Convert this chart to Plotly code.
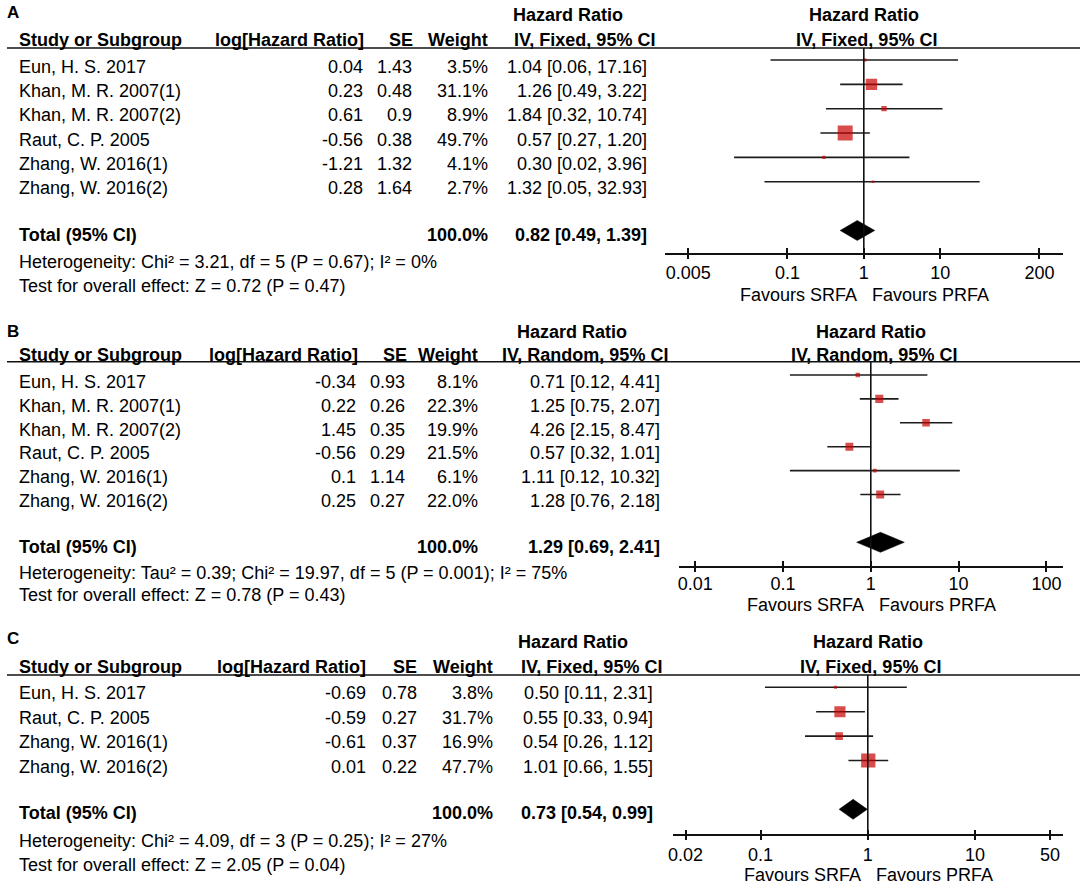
import plotly.graph_objects as go

# ---------------- data ----------------
A_studies = ["Eun, H. S. 2017", "Khan, M. R. 2007(1)", "Khan, M. R. 2007(2)",
             "Raut, C. P. 2005", "Zhang, W. 2016(1)", "Zhang, W. 2016(2)"]
A_loghr = [0.04, 0.23, 0.61, -0.56, -1.21, 0.28]
A_se = [1.43, 0.48, 0.9, 0.38, 1.32, 1.64]
A_weight = [3.5, 31.1, 8.9, 49.7, 4.1, 2.7]
A_hr = [1.04, 1.26, 1.84, 0.57, 0.30, 1.32]
A_lo = [0.06, 0.49, 0.32, 0.27, 0.02, 0.05]
A_hi = [17.16, 3.22, 10.74, 1.20, 3.96, 32.93]
A_total = [0.82, 0.49, 1.39]
A_total_weight = 100.0
A_method = "IV, Fixed, 95% CI"
A_het = "Heterogeneity: Chi² = 3.21, df = 5 (P = 0.67); I² = 0%"
A_test = "Test for overall effect: Z = 0.72 (P = 0.47)"
A_ticks = [0.005, 0.1, 1, 10, 200]
A_ticktext = ["0.005", "0.1", "1", "10", "200"]

B_studies = ["Eun, H. S. 2017", "Khan, M. R. 2007(1)", "Khan, M. R. 2007(2)",
             "Raut, C. P. 2005", "Zhang, W. 2016(1)", "Zhang, W. 2016(2)"]
B_loghr = [-0.34, 0.22, 1.45, -0.56, 0.1, 0.25]
B_se = [0.93, 0.26, 0.35, 0.29, 1.14, 0.27]
B_weight = [8.1, 22.3, 19.9, 21.5, 6.1, 22.0]
B_hr = [0.71, 1.25, 4.26, 0.57, 1.11, 1.28]
B_lo = [0.12, 0.75, 2.15, 0.32, 0.12, 0.76]
B_hi = [4.41, 2.07, 8.47, 1.01, 10.32, 2.18]
B_total = [1.29, 0.69, 2.41]
B_total_weight = 100.0
B_method = "IV, Random, 95% CI"
B_het = "Heterogeneity: Tau² = 0.39; Chi² = 19.97, df = 5 (P = 0.001); I² = 75%"
B_test = "Test for overall effect: Z = 0.78 (P = 0.43)"
B_ticks = [0.01, 0.1, 1, 10, 100]
B_ticktext = ["0.01", "0.1", "1", "10", "100"]

C_studies = ["Eun, H. S. 2017", "Raut, C. P. 2005", "Zhang, W. 2016(1)", "Zhang, W. 2016(2)"]
C_loghr = [-0.69, -0.59, -0.61, 0.01]
C_se = [0.78, 0.27, 0.37, 0.22]
C_weight = [3.8, 31.7, 16.9, 47.7]
C_hr = [0.50, 0.55, 0.54, 1.01]
C_lo = [0.11, 0.33, 0.26, 0.66]
C_hi = [2.31, 0.94, 1.12, 1.55]
C_total = [0.73, 0.54, 0.99]
C_total_weight = 100.0
C_method = "IV, Fixed, 95% CI"
C_het = "Heterogeneity: Chi² = 4.09, df = 3 (P = 0.25); I² = 27%"
C_test = "Test for overall effect: Z = 2.05 (P = 0.04)"
C_ticks = [0.02, 0.1, 1, 10, 50]
C_ticktext = ["0.02", "0.1", "1", "10", "50"]

FAV_LEFT = "Favours SRFA"
FAV_RIGHT = "Favours PRFA"

# ---------------- layout geometry (pixels) ----------------
W, H = 1084, 885
FONT = "Liberation Sans, Arial, sans-serif"
FS = 18

panels = [
    dict(label="A", studies=A_studies, loghr=A_loghr, se=A_se, weight=A_weight,
         hr=A_hr, lo=A_lo, hi=A_hi, total=A_total, tw=A_total_weight, method=A_method,
         het=A_het, test=A_test, ticks=A_ticks, ticktext=A_ticktext,
         g=dict(label_y=13, hr_y=15, head_y=40, line_y=48, row0=60, pitch=24.35,
                tdy=6.7, total_y=235, het_y=261.5, test_y=285.7, axis_y=253,
                fav_y=295, xl=663, xr=1063, logr=2.61, box=1.44, std=3,
                c_name=15, c_log=360, c_se=410, c_wt=486, c_hr=645,
                h_log=361, h_se=411, h_wt=486, h_iv=653, h_hr=511)),
    dict(label="B", studies=B_studies, loghr=B_loghr, se=B_se, weight=B_weight,
         hr=B_hr, lo=B_lo, hi=B_hi, total=B_total, tw=B_total_weight, method=B_method,
         het=B_het, test=B_test, ticks=B_ticks, ticktext=B_ticktext,
         g=dict(label_y=331.7, hr_y=331.7, head_y=355, line_y=361.7, row0=375, pitch=23.9,
                tdy=6.7, total_y=546.7, het_y=572.7, test_y=595, axis_y=566,
                fav_y=605, xl=677, xr=1063, logr=2.19, box=1.25, std=1,
                c_name=15, c_log=353, c_se=402, c_wt=476, c_hr=658,
                h_log=355, h_se=404, h_wt=476, h_iv=666, h_hr=515)),
    dict(label="C", studies=C_studies, loghr=C_loghr, se=C_se, weight=C_weight,
         hr=C_hr, lo=C_lo, hi=C_hi, total=C_total, tw=C_total_weight, method=C_method,
         het=C_het, test=C_test, ticks=C_ticks, ticktext=C_ticktext,
         g=dict(label_y=638, hr_y=642, head_y=666.7, line_y=675, row0=687.3, pitch=24.4,
                tdy=6.0, total_y=813.3, het_y=840.7, test_y=865, axis_y=834.3,
                fav_y=875, xl=671, xr=1063, logr=1.82, box=1.40, std=3,
                c_name=15, c_log=363, c_se=415, c_wt=491, c_hr=651,
                h_log=363, h_se=415, h_wt=491, h_iv=660, h_hr=516)),
]


def px_x(v):
    return v / W


def px_y(v):
    return 1 - v / H


fig = go.Figure()
annotations = []
shapes = []
layout_axes = {}

LINE_COL = "#111111"


def ann(text, x, y, xanchor="left", bold=False, xref="paper", yref="paper", yshift=0, xshift=0,
        size=FS):
    annotations.append(dict(
        text=f"<b>{text}</b>" if bold else text, x=x, y=y, xref=xref, yref=yref,
        xanchor=xanchor, yanchor="middle", showarrow=False, borderpad=0, borderwidth=0,
        yshift=yshift, xshift=xshift, font=dict(family=FONT, size=size, color="#000")))


for k, p in enumerate(panels):
    g = p["g"]
    n = len(p["studies"])
    idx = "" if k == 0 else str(k + 1)
    xa, ya = "x" + idx, "y" + idx
    xa_out = "x" + str(k + 4)
    rows = list(range(n))
    total_row = n + 1

    # y axis in row units
    y_top = (g["line_y"] - g["row0"]) / g["pitch"]
    y_bot = (g["axis_y"] - g["row0"]) / g["pitch"]
    dom_x = [px_x(g["xl"]), px_x(g["xr"])]
    dom_y = [px_y(g["axis_y"]), px_y(g["line_y"])]

    layout_axes["xaxis" + idx] = dict(
        type="log", range=[-g["logr"], g["logr"]], domain=dom_x, anchor=ya,
        showline=True, linecolor=LINE_COL, linewidth=1.6, ticks="inside",
        ticklen=5, tickwidth=1.6, tickcolor=LINE_COL, tickvals=p["ticks"],
        ticktext=p["ticktext"], tickfont=dict(family=FONT, size=FS, color="#000"),
        showgrid=False, zeroline=False, fixedrange=True, ticklabelstandoff=g["std"])
    layout_axes["xaxis" + str(k + 4)] = dict(
        type="log", range=[-g["logr"], g["logr"]], overlaying=xa, anchor=ya, side="bottom",
        showline=False, ticks="outside", ticklen=5, tickwidth=1.6, tickcolor=LINE_COL,
        tickvals=p["ticks"], showticklabels=False, showgrid=False, zeroline=False,
        fixedrange=True)
    layout_axes["yaxis" + idx] = dict(
        range=[y_bot, y_top], domain=dom_y, visible=False, fixedrange=True)

    # reference line at HR = 1
    fig.add_trace(go.Scatter(x=[1, 1], y=[y_bot, y_top], mode="lines",
                             line=dict(color=LINE_COL, width=1.6), xaxis=xa_out, yaxis=ya,
                             hoverinfo="skip", showlegend=False))
    # confidence intervals
    ci_x, ci_y = [], []
    for i in rows:
        ci_x += [p["lo"][i], p["hi"][i], None]
        ci_y += [i, i, None]
    fig.add_trace(go.Scatter(x=ci_x, y=ci_y, mode="lines",
                             line=dict(color="#1c1c1c", width=1.6), xaxis=xa, yaxis=ya,
                             hoverinfo="skip", showlegend=False))
    # weighted squares
    sizes = [g["box"] * (w ** 0.6) for w in p["weight"]]
    fig.add_trace(go.Scatter(x=p["hr"], y=rows, mode="markers",
                             marker=dict(symbol="square", size=sizes, color="#C80000",
                                         line=dict(width=0)),
                             xaxis=xa, yaxis=ya, hoverinfo="skip", showlegend=False))
    # pooled diamond
    t, lo, hi = p["total"]
    hh = 10 / g["pitch"]
    fig.add_trace(go.Scatter(x=[lo, t, hi, t, lo],
                             y=[total_row, total_row - hh, total_row, total_row + hh, total_row],
                             mode="lines", fill="toself", fillcolor="#000",
                             line=dict(color="#000", width=0.5), xaxis=xa, yaxis=ya,
                             hoverinfo="skip", showlegend=False))

    # header underline
    shapes.append(dict(type="line", xref="paper", yref="paper", x0=px_x(3), x1=px_x(1080),
                       y0=px_y(g["line_y"]), y1=px_y(g["line_y"]),
                       line=dict(color=LINE_COL, width=1.6)))

    # panel label and headers
    ann(p["label"], px_x(3), px_y(g["label_y"]), bold=True, size=17)
    ann("Hazard Ratio", px_x(g["h_hr"]), px_y(g["hr_y"]), bold=True)
    ann("Study or Subgroup", px_x(g["c_name"]), px_y(g["head_y"]), bold=True)
    ann("log[Hazard Ratio]", px_x(g["h_log"]), px_y(g["head_y"]), xanchor="right", bold=True)
    ann("SE", px_x(g["h_se"]), px_y(g["head_y"]), xanchor="right", bold=True)
    ann("Weight", px_x(g["h_wt"]), px_y(g["head_y"]), xanchor="right", bold=True)
    ann(p["method"], px_x(g["h_iv"]), px_y(g["head_y"]), xanchor="right", bold=True)
    xc = (g["xl"] + g["xr"]) / 2
    ann("Hazard Ratio", px_x(xc), px_y(g["hr_y"]), xanchor="center", bold=True)
    ann(p["method"], px_x(xc + 3), px_y(g["head_y"]), xanchor="center", bold=True)

    # study rows
    for i in rows:
        ys = -g["tdy"]
        ann(p["studies"][i], px_x(g["c_name"]), i, yref=ya, yshift=ys)
        ann(str(p["loghr"][i]), px_x(g["c_log"]), i, xanchor="right", yref=ya, yshift=ys)
        ann(str(p["se"][i]), px_x(g["c_se"]), i, xanchor="right", yref=ya, yshift=ys)
        ann(f"{p['weight'][i]:.1f}%", px_x(g["c_wt"]), i, xanchor="right", yref=ya, yshift=ys)
        ann(f"{p['hr'][i]:.2f} [{p['lo'][i]:.2f}, {p['hi'][i]:.2f}]", px_x(g["c_hr"]), i,
            xanchor="right", yref=ya, yshift=ys)

    # total + stats
    ann("Total (95% CI)", px_x(g["c_name"]), px_y(g["total_y"]), bold=True)
    ann(f"{p['tw']:.1f}%", px_x(g["c_wt"]), px_y(g["total_y"]), xanchor="right", bold=True)
    ann(f"{t:.2f} [{lo:.2f}, {hi:.2f}]", px_x(g["c_hr"]), px_y(g["total_y"]),
        xanchor="right", bold=True)
    ann(p["het"], px_x(g["c_name"]), px_y(g["het_y"]))
    ann(p["test"], px_x(g["c_name"]), px_y(g["test_y"]))

    # favours labels
    ann(FAV_LEFT, 0, px_y(g["fav_y"]), xanchor="right", xref=xa, xshift=-7)
    ann(FAV_RIGHT, 0, px_y(g["fav_y"]), xanchor="left", xref=xa, xshift=8)

fig.update_layout(
    width=W, height=H, margin=dict(l=0, r=0, t=0, b=0),
    paper_bgcolor="white", plot_bgcolor="white",
    font=dict(family=FONT, size=FS, color="#000"),
    annotations=annotations, shapes=shapes, showlegend=False,
    **layout_axes)

fig.write_html("out.html", config={"displayModeBar": False},
               post_script="document.body.style.margin='0px';")
